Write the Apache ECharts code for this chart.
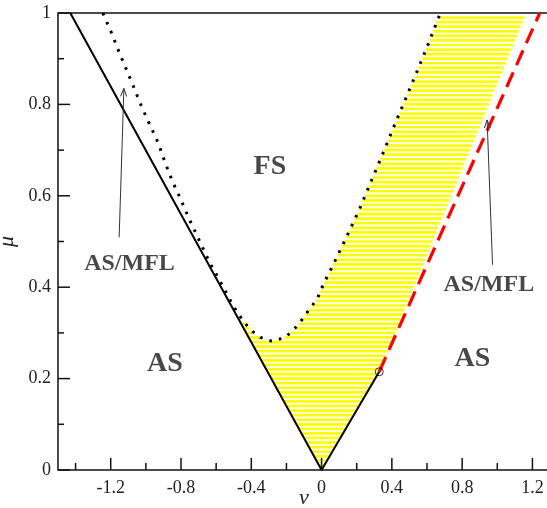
<!DOCTYPE html>
<html>
<head>
<meta charset="utf-8">
<script src="https://cdn.jsdelivr.net/npm/echarts@6/dist/echarts.min.js"></script>
<style>
  html, body { margin: 0; padding: 0; background: #fff; }
  #chart { width: 547px; height: 508px; }
</style>
</head>
<body>
<div id="chart"></div>
<script>
// ---- axis ticks ----
const xMajorTicks = [-1.2, -0.8, -0.4, 0, 0.4, 0.8, 1.2];
const xMinorTicks = [-1.4, -1.0, -0.6, -0.2, 0.2, 0.6, 1.0];
const yMajorTicks = [0, 0.2, 0.4, 0.6, 0.8, 1];
const yMinorTicks = [0.1, 0.3, 0.5, 0.7, 0.9];

// ---- phase boundaries, points are [nu, mu] ----
// solid line: AS boundary, left branch and right branch up to the critical point
const asBoundary = [[-1.43, 1.0], [0, 0], [0.328, 0.215]];

// dotted line: boundary of the FS region
const fsBoundary = [
  [-1.245, 1.0], [-1.195, 0.956], [-1.153, 0.915], [-1.109, 0.875], [-1.066, 0.835],
  [-1.024, 0.795], [-0.977, 0.755], [-0.929, 0.715], [-0.891, 0.673], [-0.848, 0.631],
  [-0.800, 0.591], [-0.759, 0.554], [-0.708, 0.512], [-0.635, 0.452], [-0.582, 0.416],
  [-0.526, 0.376], [-0.506, 0.361], [-0.469, 0.339], [-0.436, 0.321], [-0.392, 0.303],
  [-0.347, 0.290], [-0.284, 0.282], [-0.213, 0.289], [-0.165, 0.304], [-0.127, 0.321],
  [-0.095, 0.338], [-0.063, 0.355], [-0.025, 0.374], [-0.004, 0.394], [0.020, 0.414],
  [0.070, 0.452], [0.142, 0.510], [0.214, 0.569], [0.280, 0.630], [0.347, 0.691],
  [0.413, 0.753], [0.478, 0.812], [0.544, 0.873], [0.609, 0.934], [0.676, 1.0]
];

// dashed red line: MFL boundary starting at the critical point
const mflBoundary = [[0.328, 0.215], [1.242, 1.0]];
const criticalPoint = [[0.328, 0.215]];

// right-hand edge of the hatched (coexistence) region
const hatchEdge = [[0.328, 0.215], [1.166, 1.0]];
// index in fsBoundary where the hatched region leaves the solid line
const hatchJoinIndex = 18;

// region names [nu, mu, text, size]
const regionLabels = [
  [-0.294, 0.664, 'FS', 28],
  [-0.891, 0.232, 'AS', 28],
  [0.858, 0.243, 'AS', 28],
  [-1.093, 0.451, 'AS/MFL', 24],
  [0.952, 0.405, 'AS/MFL', 24]
];

// annotation arrows [tailNu, tailMu, headNu, headMu]
const arrows = [
  [-1.152, 0.509, -1.125, 0.835],
  [0.973, 0.449, 0.942, 0.766]
];

// ---- hatched region polygon ----
function nuAt(p, q, mu) {
  return p[0] + (mu - p[1]) * (q[0] - p[0]) / (q[1] - p[1]);
}
const joinMu = fsBoundary[hatchJoinIndex][1];
const hatchPolygon = [
  asBoundary[1],
  [nuAt(asBoundary[0], asBoundary[1], joinMu), joinMu]
].concat(fsBoundary.slice(hatchJoinIndex))
 .concat([hatchEdge[1], hatchEdge[0]]);

const HATCH_STEP = 0.01;
const HATCH_ROWS = 99;

const X_MIN = -1.5, X_MAX = 1.3;
const serif = 'Liberation Serif';

const chart = echarts.init(document.getElementById('chart'), null, { renderer: 'canvas' });

chart.setOption({
  animation: false,
  backgroundColor: '#fff',
  grid: {
    left: 58, right: -3, top: 13, bottom: 38,
    outerBoundsMode: 'none', containLabel: false,
    show: true, borderColor: '#111', borderWidth: 1.5, backgroundColor: 'transparent'
  },
  xAxis: {
    type: 'value', min: X_MIN, max: X_MAX, position: 'bottom',
    splitLine: { show: false }, axisLine: { show: false, onZero: false },
    axisTick: { show: false },
    name: 'ν', nameLocation: 'middle', nameGap: 17, nameMoveOverlap: false,
    nameTextStyle: { fontFamily: serif, fontStyle: 'italic', fontSize: 22, color: '#222' },
    axisLabel: { show: true, customValues: xMajorTicks, margin: 9, fontFamily: serif, fontSize: 18, color: '#222' }
  },
  yAxis: {
    type: 'value', min: 0, max: 1, position: 'left',
    splitLine: { show: false }, axisLine: { show: false, onZero: false },
    axisTick: { show: false },
    name: 'μ', nameLocation: 'middle', nameGap: 40, nameRotate: 90, nameMoveOverlap: false,
    nameTextStyle: { fontFamily: serif, fontStyle: 'italic', fontSize: 22, color: '#222' },
    axisLabel: { show: true, customValues: yMajorTicks, margin: 7, fontFamily: serif, fontSize: 18, color: '#222' }
  },
  series: [
    {
      // horizontal yellow hatching of the coexistence region
      type: 'custom',
      data: [[0, 0]],
      z: 1,
      silent: true,
      renderItem: function (params, api) {
        const children = [];
        const n = hatchPolygon.length;
        for (let k = 1; k <= HATCH_ROWS; k++) {
          const mu = k * HATCH_STEP;
          const xs = [];
          for (let i = 0; i < n; i++) {
            const a = hatchPolygon[i];
            const b = hatchPolygon[(i + 1) % n];
            if ((a[1] <= mu) !== (b[1] <= mu)) xs.push(nuAt(a, b, mu));
          }
          xs.sort((p, q) => p - q);
          for (let j = 0; j + 1 < xs.length; j += 2) {
            const p1 = api.coord([xs[j], mu]);
            const p2 = api.coord([xs[j + 1], mu]);
            children.push({
              type: 'line',
              shape: { x1: p1[0], y1: p1[1], x2: p2[0], y2: p2[1] },
              style: { stroke: '#ffff00', lineWidth: 2.7, lineCap: 'butt' }
            });
          }
        }
        return { type: 'group', children: children };
      }
    },
    {
      // inward-pointing tick marks on the bottom and left frame edges
      type: 'custom',
      data: [[0, 0]],
      z: 7,
      silent: true,
      renderItem: function (params, api) {
        const children = [];
        const style = { stroke: '#111', lineWidth: 1.5 };
        const addX = (v, len) => {
          const p = api.coord([v, 0]);
          children.push({ type: 'line', shape: { x1: p[0], y1: p[1], x2: p[0], y2: p[1] - len }, style: style });
        };
        const addY = (v, len) => {
          const p = api.coord([X_MIN, v]);
          children.push({ type: 'line', shape: { x1: p[0], y1: p[1], x2: p[0] + len, y2: p[1] }, style: style });
        };
        xMajorTicks.forEach(v => addX(v, 12));
        xMinorTicks.forEach(v => addX(v, 7));
        yMajorTicks.forEach(v => addY(v, 12));
        yMinorTicks.forEach(v => addY(v, 6));
        return { type: 'group', children: children };
      }
    },
    {
      type: 'line', data: fsBoundary, symbol: 'none', z: 3, silent: true,
      lineStyle: { color: '#000', width: 3, type: [2.6, 7.2], cap: 'butt' }
    },
    {
      type: 'line', data: mflBoundary, symbol: 'none', z: 3, silent: true,
      lineStyle: { color: '#ff0000', width: 3.2, type: [16, 8], cap: 'butt' }
    },
    {
      type: 'line', data: asBoundary, symbol: 'none', z: 4, silent: true,
      lineStyle: { color: '#000', width: 2 }
    },
    {
      type: 'scatter', data: criticalPoint, symbol: 'circle', symbolSize: 8, z: 5, silent: true,
      itemStyle: { color: 'transparent', borderColor: '#000', borderWidth: 1 }
    },
    {
      // thin arrows pointing at the AS/MFL strips
      type: 'custom', data: arrows, z: 5, silent: true,
      renderItem: function (params, api) {
        const t = api.coord([api.value(0), api.value(1)]);
        const h = api.coord([api.value(2), api.value(3)]);
        const dx = h[0] - t[0], dy = h[1] - t[1];
        const len = Math.sqrt(dx * dx + dy * dy);
        const ux = dx / len, uy = dy / len;
        const hl = 8, hw = 3;
        const bx = h[0] - ux * hl, by = h[1] - uy * hl;
        const style = { stroke: '#333', lineWidth: 1, fill: null };
        return {
          type: 'group',
          children: [
            { type: 'line', shape: { x1: t[0], y1: t[1], x2: h[0], y2: h[1] }, style: style },
            { type: 'polyline', shape: { points: [[bx - uy * hw, by + ux * hw], [h[0], h[1]], [bx + uy * hw, by - ux * hw]] }, style: style }
          ]
        };
      }
    },
    {
      type: 'scatter', symbolSize: 0, z: 6, silent: true,
      data: regionLabels.map(r => ({
        value: [r[0], r[1]],
        label: { formatter: r[2], fontSize: r[3] }
      })),
      label: {
        show: true, position: 'inside',
        fontFamily: serif, fontWeight: 'bold', color: '#1a1a1a'
      }
    }
  ]
});
</script>
</body>
</html>
